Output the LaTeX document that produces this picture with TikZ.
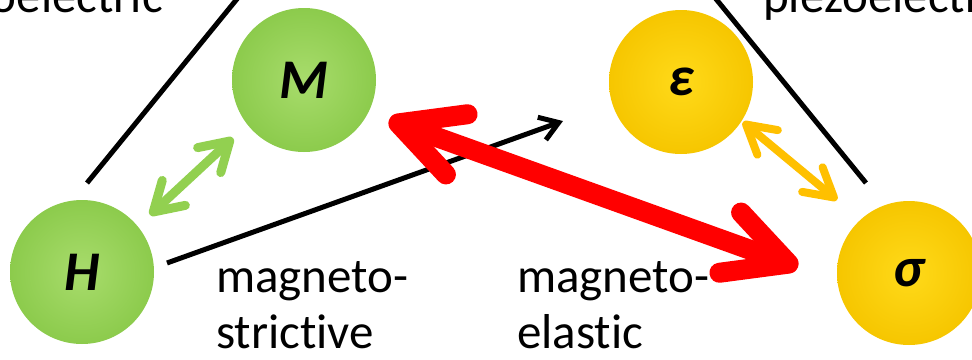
\documentclass[tikz,border=0pt]{standalone}
\usepackage{fontspec}
\setmainfont{Carlito}[Ligatures=NoCommon]
\usepackage{tikz}
\usetikzlibrary{arrows.meta,calc}
\usepackage{xcolor}

\definecolor{ballgreenin}{HTML}{A8DC6C}
\definecolor{ballgreenout}{HTML}{8CCB4C}
\definecolor{ballyellowin}{HTML}{FFDA1A}
\definecolor{ballyellowout}{HTML}{F6C600}
\definecolor{arrowgreen}{HTML}{92D050}
\definecolor{arrowyellow}{HTML}{FFC000}

\begin{document}
\begin{tikzpicture}[x=1pt,y=-1pt,
    ball/.style={circle, minimum size=144pt, inner sep=0pt, shading=radial,
        font=\fontsize{56}{60}\selectfont\bfseries\itshape},
    greenball/.style={ball, inner color=ballgreenin, outer color=ballgreenout},
    yellowball/.style={ball, inner color=ballyellowin, outer color=ballyellowout},
    txt/.style={inner sep=0pt, font=\fontsize{49}{56}\selectfont, align=left},
    side/.style={line width=5pt},
    garrow/.style={line width=9pt, arrowgreen, {Straight Barb[length=28pt,width=34pt,round]}-{Straight Barb[length=28pt,width=34pt,round]}},
    yarrow/.style={line width=8pt, arrowyellow, {Straight Barb[length=28pt,width=32pt,round]}-{Straight Barb[length=28pt,width=32pt,round]}},
    rarrow/.style={line width=20pt, red, {Straight Barb[length=62pt,width=64pt,round]}-{Straight Barb[length=62pt,width=64pt,round]}},
    karrow/.style={line width=5pt, -{Straight Barb[length=18pt,width=24pt]}}]

    \useasboundingbox (0,0) rectangle (972,359);
    \clip (0,0) rectangle (972,359);

    % Balls
    \node[greenball] (H) at (82,272) {H};
    \node[greenball] (M) at (304,80) {M};
    \node[yellowball] (eps) at (681,82) {ε};
    \node[yellowball] (sigma) at (909,273) {σ};

    % Triangle sides (cut by the frame)
    \draw[side] ($(H)+(5,-89)$) -- ++(163,-200);
    \draw[side] ($(sigma)+(-43,-90)$) -- ++(-163,-200);

    % Couplings
    \draw[garrow] ($(H)+(68,-57)$) -- ($(M)+(-71,58)$);
    \draw[yarrow] ($(eps)+(62,40)$) -- ($(sigma)+(-72,-73)$);
    \draw[karrow] ($(H)+(85,-9)$) -- ($(eps)+(-118,39)$);
    \draw[rarrow] ($(M)+(85,40)$) -- ($(sigma)+(-111,-6)$);

    % Labels
    \node[txt, anchor=base east] (meLabel) at (163,12) {magnetoelectric};
    \node[txt, anchor=base west] (peLabel) at (763,12) {piezoelectric};
    \node[txt, anchor=base west] (msLabel) at (216,348) {magneto-\\strictive};
    \node[txt, anchor=base west] (elLabel) at (517,348) {magneto-\\elastic};
\end{tikzpicture}
\end{document}
